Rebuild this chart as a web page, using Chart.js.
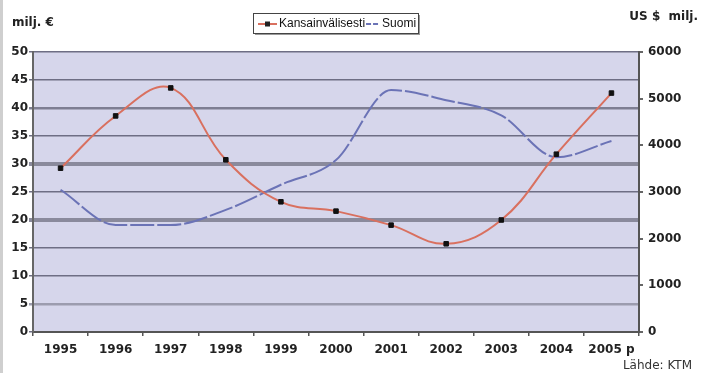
<!DOCTYPE html>
<html lang="fi">
<head>
<meta charset="UTF-8">
<title>Kansainvälisesti ja Suomi</title>
<script src="https://cdn.jsdelivr.net/npm/chart.js"></script>
<style>
    html, body { margin: 0; padding: 0; background: #ffffff; }
    #wrap { width: 702px; height: 373px; position: relative; }
</style>
</head>
<body>
<div id="wrap"><canvas id="chart" width="702" height="373"></canvas></div>
<script>
    // data
    const years = ["1995", "1996", "1997", "1998", "1999", "2000", "2001", "2002", "2003", "2004", "2005 p"];
    const kansainvalisesti = [3510, 4630, 5230, 3690, 2790, 2590, 2290, 1890, 2400, 3810, 5120]; // US $ milj.
    const suomi = [25.4, 19.1, 19.1, 21.8, 26.3, 30.7, 43.2, 41.4, 38.7, 31.2, 34.1];            // milj. €
    const leftTicks = [0, 5, 10, 15, 20, 25, 30, 35, 40, 45, 50];
    const rightTicks = [0, 1000, 2000, 3000, 4000, 5000, 6000];

    const RED = "#d9705f";
    const BLUE = "#6b73b6";
    const FONT = "'DejaVu Sans', Verdana, sans-serif";

    // some grid lines look heavier in the original
    function gridWidth(v) {
        if (v === 30 || v === 20) return 4;
        if (v === 40 || v === 5) return 2.5;
        return 1.5;
    }
    function gridColor(v) {
        if (v === 30 || v === 20) return "#8a8a9c";
        if (v === 40) return "#7e7e92";
        if (v === 5) return "#9c9cae";
        return "#6e6e84";
    }

    const decor = {
        id: "decor",
        beforeDraw(chart) {
            const { ctx, chartArea: a } = chart;
            ctx.save();
            ctx.fillStyle = "#d6d6eb";
            ctx.fillRect(a.left, a.top, a.right - a.left, a.bottom - a.top);
            ctx.restore();
        },
        afterDraw(chart) {
            const ctx = chart.ctx;
            ctx.save();
            // left edge band
            ctx.fillStyle = "#cfcfcf";
            ctx.fillRect(0, 0, 3, 373);

            // axis titles
            ctx.fillStyle = "#222";
            ctx.textBaseline = "middle";
            ctx.font = "bold 12px " + FONT;
            ctx.textAlign = "left";
            ctx.fillText("milj. €", 12, 23);
            ctx.textAlign = "right";
            ctx.fillText("US $  milj.", 698, 17);

            // source
            ctx.font = "12px " + FONT;
            ctx.fillStyle = "#333";
            ctx.fillText("Lähde: KTM", 692, 366);

            // legend box
            const bx = 253, by = 13, bw = 165, bh = 20;
            ctx.fillStyle = "#9a9a9a";
            ctx.fillRect(bx + 2, by + 2, bw, bh);
            ctx.fillStyle = "#ffffff";
            ctx.fillRect(bx, by, bw, bh);
            ctx.strokeStyle = "#444";
            ctx.lineWidth = 1;
            ctx.strokeRect(bx + 0.5, by + 0.5, bw, bh);

            const cy = by + bh / 2 + 1;
            ctx.strokeStyle = RED;
            ctx.lineWidth = 2;
            ctx.beginPath();
            ctx.moveTo(bx + 5, cy);
            ctx.lineTo(bx + 24, cy);
            ctx.stroke();
            ctx.fillStyle = "#222";
            ctx.fillRect(bx + 12, cy - 2.5, 5, 5);

            ctx.font = "12px 'Liberation Sans', Arial, sans-serif";
            ctx.textAlign = "left";
            ctx.fillStyle = "#111";
            ctx.fillText("Kansainvälisesti", bx + 26, cy);
            const tw = ctx.measureText("Kansainvälisesti").width;

            const sx = bx + 26 + tw + 1;
            ctx.strokeStyle = BLUE;
            ctx.lineWidth = 2;
            ctx.setLineDash([5, 2]);
            ctx.beginPath();
            ctx.moveTo(sx, cy);
            ctx.lineTo(sx + 14, cy);
            ctx.stroke();
            ctx.setLineDash([]);
            ctx.fillText("Suomi", sx + 16, cy);
            ctx.restore();
        }
    };

    new Chart(document.getElementById("chart"), {
        type: "line",
        data: {
            labels: years,
            datasets: [
                {
                    label: "Kansainvälisesti",
                    data: kansainvalisesti,
                    yAxisID: "y1",
                    borderColor: RED,
                    borderWidth: 2,
                    tension: 0.4,
                    pointStyle: "rect",
                    pointRadius: 3.2,
                    pointBackgroundColor: "#111",
                    pointBorderColor: "#111",
                    pointBorderWidth: 1
                },
                {
                    label: "Suomi",
                    data: suomi,
                    yAxisID: "y",
                    borderColor: BLUE,
                    borderWidth: 2,
                    borderDash: [24, 3],
                    cubicInterpolationMode: "monotone",
                    pointRadius: 0
                }
            ]
        },
        options: {
            responsive: false,
            devicePixelRatio: 1,
            animation: false,
            layout: { padding: { top: 52, left: 0, right: 0, bottom: 0 } },
            plugins: { legend: { display: false }, tooltip: { enabled: false } },
            scales: {
                x: {
                    offset: true,
                    afterFit(s) { s.height = 41; },
                    grid: { offset: true, drawOnChartArea: false, tickLength: 4, color: "#555", lineWidth: 1.5 },
                    border: { color: "#555", width: 2 },
                    ticks: { color: "#222", font: { family: FONT, size: 12, weight: "bold" }, padding: 7, maxRotation: 0, autoSkip: false }
                },
                y: {
                    position: "left",
                    min: 0,
                    max: 50,
                    afterFit(s) { s.width = 33; },
                    afterBuildTicks(s) { s.ticks = leftTicks.map(v => ({ value: v })); },
                    grid: {
                        tickLength: 4,
                        color: c => gridColor(c.tick.value),
                        lineWidth: c => gridWidth(c.tick.value)
                    },
                    border: { color: "#666", width: 2 },
                    ticks: { color: "#222", font: { family: FONT, size: 12, weight: "bold" }, padding: 1 }
                },
                y1: {
                    position: "right",
                    min: 0,
                    max: 6000,
                    afterFit(s) { s.width = 63; },
                    afterBuildTicks(s) { s.ticks = rightTicks.map(v => ({ value: v })); },
                    grid: { drawOnChartArea: false, tickLength: 4, color: "#666", lineWidth: 2 },
                    border: { color: "#555", width: 2 },
                    ticks: { color: "#222", font: { family: FONT, size: 12, weight: "bold" }, padding: 5, callback: v => String(v) }
                }
            }
        },
        plugins: [decor]
    });
</script>
</body>
</html>
